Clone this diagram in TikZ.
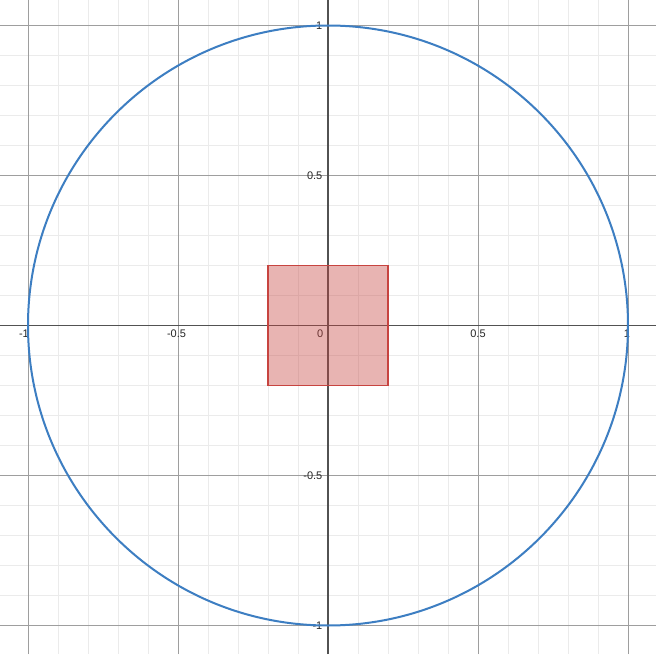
\documentclass[tikz,border=0pt]{standalone}
\usepackage{fontspec}
\setmainfont{Liberation Sans}
\begin{document}
\begin{tikzpicture}[x=300pt,y=300pt,
  minorgrid/.style={draw=black!8,line width=0.8pt},
  majorgrid/.style={draw=black!38,line width=0.8pt},
  axisline/.style={draw=black!68,line width=1.6pt},
  ticklabel/.style={inner sep=0pt,font=\fontsize{11}{11}\selectfont,text=black!85},
  curve/.style={draw={rgb,255:red,61;green,126;blue,194},line width=2pt},
  region/.style={draw={rgb,255:red,199;green,68;blue,64},line width=1.6pt,
    fill={rgb,255:red,199;green,68;blue,64},fill opacity=0.4}]
\def\Lx{-1.09334}\def\Rx{1.09334}\def\Ty{1.085}\def\By{-1.095}
\useasboundingbox (\Lx,\By) rectangle (\Rx,\Ty);
\fill[white] (\Lx,\By) rectangle (\Rx,\Ty);
% minor grid
\foreach \i in {-10,...,10}{
  \draw[minorgrid] (\i/10,\By) -- (\i/10,\Ty);
  \draw[minorgrid] (\Lx,\i/10) -- (\Rx,\i/10);
}
% major grid
\foreach \v in {-1,-0.5,0.5,1}{
  \draw[majorgrid] (\v,\By) -- (\v,\Ty);
  \draw[majorgrid] (\Lx,\v) -- (\Rx,\v);
}
% axes
\draw[axisline] (\Lx,0) -- (\Rx,0);
\draw[axisline] (0,\By) -- (0,\Ty);
% x tick labels
\node[ticklabel,anchor=north east] (xm1) at ([xshift=1pt,yshift=-4pt]-1,0) {-1};
\node[ticklabel,anchor=north] (xm05) at ([xshift=-1.5pt,yshift=-4pt]-0.5,0) {-0.5};
\node[ticklabel,anchor=north east] (x0) at ([xshift=-4.5pt,yshift=-4pt]0,0) {0};
\node[ticklabel,anchor=north] (xp05) at ([yshift=-4pt]0.5,0) {0.5};
\node[ticklabel,anchor=north] (xp1) at ([xshift=-1pt,yshift=-4pt]1,0) {1};
% y tick labels
\node[ticklabel,anchor=east] (yp1) at ([xshift=-5.5pt]0,1) {1};
\node[ticklabel,anchor=east] (yp05) at ([xshift=-5.5pt]0,0.5) {0.5};
\node[ticklabel,anchor=east] (ym05) at ([xshift=-5.5pt]0,-0.5) {-0.5};
\node[ticklabel,anchor=east] (ym1) at ([xshift=-5.5pt]0,-1) {-1};
% curves
\draw[curve] (0,0) circle[radius=1];
\draw[region] (-0.2,-0.2) rectangle (0.2,0.2);
\end{tikzpicture}
\end{document}
